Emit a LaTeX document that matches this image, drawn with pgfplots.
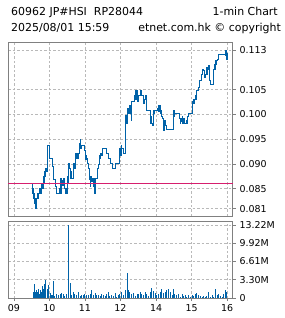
\documentclass[border=0pt]{standalone}
\usepackage{fontspec}
\setmainfont{DejaVu Sans}
\usepackage{pgfplots}
\pgfplotsset{compat=1.18}
\usepackage{pgfplotstable}
\definecolor{lineblue}{RGB}{0,98,168}
\definecolor{prevred}{RGB}{214,30,110}
\definecolor{framegray}{RGB}{128,128,128}
\definecolor{gridgray}{RGB}{185,185,185}

\pgfplotstableread{
m p
30 0.0860
31 0.0841
32 0.0851
33 0.0831
34 0.0841
35 0.0821
36 0.0831
37 0.0811
38 0.0831
39 0.0841
40 0.0831
41 0.0841
44 0.0851
45 0.0841
46 0.0860
47 0.0851
48 0.0860
49 0.0851
50 0.0875
51 0.0860
52 0.0885
53 0.0875
54 0.0891
55 0.0885
56 0.0938
60 0.0911
65 0.0895
67 0.0868
70 0.0855
72 0.0841
77 0.0851
78 0.0841
79 0.0871
80 0.0841
81 0.0856
82 0.0866
83 0.0856
84 0.0871
85 0.0856
86 0.0851
87 0.0841
88 0.0851
89 0.0841
90 0.0875
91 0.0861
92 0.0895
93 0.0901
94 0.0891
95 0.0875
96 0.0871
97 0.0885
98 0.0871
100 0.0885
101 0.0901
103 0.0891
104 0.0921
106 0.0911
107 0.0921
108 0.0911
109 0.0921
110 0.0941
111 0.0931
112 0.0949
113 0.0931
114 0.0938
120 0.0928
121 0.0908
122 0.0918
123 0.0911
124 0.0901
126 0.0891
127 0.0875
128 0.0868
129 0.0855
130 0.0875
131 0.0865
132 0.0871
134 0.0855
135 0.0871
136 0.0841
137 0.0861
138 0.0871
141 0.0885
142 0.0891
143 0.0898
144 0.0908
145 0.0918
146 0.0911
147 0.0921
148 0.0918
149 0.0931
157 0.0921
160 0.0911
163 0.0901
166 0.0891
171 0.0901
179 0.0931
180 0.0918
181 0.0938
182 0.0931
185 0.0921
188 0.0958
189 0.0998
190 0.0981
191 0.0998
192 0.1011
194 0.1001
195 0.1018
197 0.1001
198 0.0988
199 0.1025
203 0.1038
204 0.1031
205 0.1038
206 0.1049
207 0.1031
208 0.1049
209 0.1025
210 0.1038
213 0.1048
216 0.1038
219 0.1021
220 0.1031
222 0.1038
224 0.1008
230 0.0995
231 0.0981
232 0.0995
233 0.0981
234 0.0978
235 0.1008
236 0.1001
237 0.1008
243 0.1011
244 0.1018
245 0.1005
246 0.1018
247 0.1001
248 0.1008
250 0.0995
251 0.0991
252 0.0978
253 0.0968
254 0.0981
255 0.0988
256 0.0978
258 0.0969
270 0.1008
271 0.0995
272 0.1001
280 0.0991
281 0.0981
282 0.0991
283 0.0985
284 0.0995
285 0.0981
286 0.0991
288 0.0981
292 0.0988
293 0.0981
294 0.0995
295 0.1001
302 0.1025
303 0.1031
304 0.1021
305 0.1031
306 0.1038
308 0.1031
309 0.1048
311 0.1055
313 0.1061
314 0.1069
316 0.1075
317 0.1081
319 0.1091
321 0.1088
322 0.1075
323 0.1081
325 0.1095
326 0.1081
327 0.1095
328 0.1098
329 0.1091
330 0.1098
331 0.1068
332 0.1061
334 0.1060
337 0.1091
338 0.1101
339 0.1091
340 0.1108
341 0.1101
342 0.1108
343 0.1111
346 0.1120
357 0.1118
358 0.1128
359 0.1111
360 0.1121
361 0.1123
}\pricetab

\pgfplotstableread{
m v
33 1.02
34 2.60
35 2.10
37 1.14
38 1.46
40 1.02
42 1.65
43 0.70
45 1.46
46 1.02
48 2.10
50 1.65
51 2.60
53 1.02
54 3.18
56 1.14
57 1.65
59 2.41
61 0.83
63 0.51
65 0.51
67 3.05
69 0.38
72 0.64
75 0.51
78 0.76
81 0.89
83 0.64
86 0.38
89 0.64
92 13.22
93 3.37
95 2.73
96 1.14
98 0.51
100 1.02
103 0.76
106 0.51
109 1.02
112 0.38
114 0.51
117 0.51
120 0.64
123 0.51
126 0.51
129 0.76
131 1.46
134 0.51
137 0.83
140 0.51
143 0.51
146 0.38
148 0.64
151 0.51
154 0.38
157 0.76
160 1.14
162 0.38
165 0.51
168 0.38
171 0.89
174 0.19
177 0.51
179 0.64
182 1.02
185 0.51
188 1.46
191 1.65
192 4.45
194 1.46
196 1.14
199 0.64
202 0.83
205 0.38
208 0.76
210 0.64
213 1.14
216 0.64
219 0.51
222 1.02
224 0.76
227 0.38
230 1.14
233 1.90
236 1.27
239 0.83
241 0.51
244 0.76
247 1.14
250 1.65
253 0.83
256 1.14
258 1.46
261 1.65
264 1.02
267 0.51
270 1.65
272 0.64
275 0.51
278 0.64
281 0.25
284 0.64
287 0.38
289 0.51
292 0.25
295 0.51
298 0.25
301 0.51
303 0.38
306 0.76
309 0.89
312 0.51
315 0.38
318 0.25
320 0.38
323 0.25
326 0.38
329 1.02
332 0.25
335 0.51
337 0.25
340 1.65
343 0.51
346 0.76
349 0.38
352 0.25
354 0.64
357 1.46
359 1.02
}\voltab

\pgfplotsset{
  chartbase/.style={
    scale only axis,
    width=225bp,
    xmin=-10, xmax=370,
    axis line style={framegray, line width=1bp},
    grid=major,
    grid style={gridgray, dash pattern=on 2.5bp off 2bp, line width=0.7bp},
    xtick={0,60,120,180,240,300,360},
    ytick pos=right,
    yticklabel pos=right,
    tick align=outside,
    major tick length=3bp,
    tick style={framegray, line width=0.8bp},
    ticklabel style={font=\fontsize{9.5}{10}\selectfont, text=black},
    yticklabel style={anchor=west, xshift=0bp},
  }
}

\begin{document}
\begin{tikzpicture}
\path[use as bounding box] (0bp,0bp) rectangle (285bp,-318bp);
\node[anchor=base west, inner sep=0pt, font=\fontsize{11}{12}\selectfont] at (11bp,-15.3bp) {60962 JP\#HSI\ \ RP28044};
\node[anchor=base east, inner sep=0pt, font=\fontsize{11}{12}\selectfont] at (278bp,-15.3bp) {1-min Chart};
\node[anchor=base west, inner sep=0pt, font=\fontsize{11}{12}\selectfont] at (11bp,-31.3bp) {2025/08/01 15:59};
\node[anchor=base east, inner sep=0pt, font=\fontsize{11}{12}\selectfont] at (281bp,-31.3bp) {etnet.com.hk © copyright};

\begin{axis}[chartbase,
  at={(8bp,-216bp)}, anchor=south west,
  height=173.5bp,
  ymin=0.0795, ymax=0.1145,
  ytick={0.081,0.085,0.090,0.095,0.100,0.105,0.113},
  yticklabels={0.081,0.085,0.090,0.095,0.100,0.105,0.113},
  xticklabels={},
  xtick style={draw=none},
]
\addplot[const plot mark left, lineblue, line width=1bp] table[x=m, y=p] {\pricetab};
\addplot[prevred, line width=1bp] coordinates {(-10,0.086) (370,0.086)};
\end{axis}

\begin{axis}[chartbase,
  at={(8bp,-298bp)}, anchor=south west,
  height=77bp,
  ymin=0, ymax=13.94,
  ytick={0,3.305,6.61,9.915,13.22},
  yticklabels={0,3.30M,6.61M,9.92M,13.22M},
  xticklabels={09,10,11,12,14,15,16},
  xtick pos=bottom,
]
\addplot[ycomb, lineblue, line width=1bp] table[x=m, y=v] {\voltab};
\end{axis}
\end{tikzpicture}
\end{document}
